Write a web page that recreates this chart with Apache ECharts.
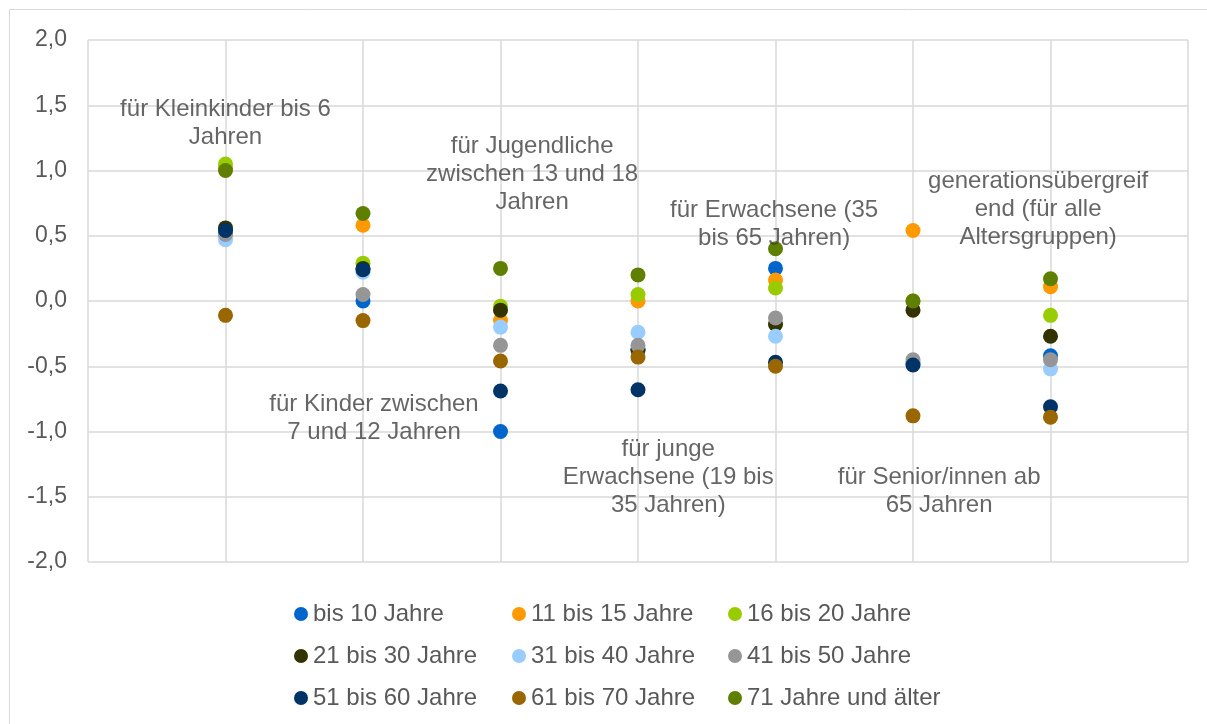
<!DOCTYPE html>
<html>
<head>
<meta charset="utf-8">
<script src="https://cdn.jsdelivr.net/npm/echarts@6/dist/echarts.min.js"></script>
<style>
  html, body { margin: 0; padding: 0; background: #fff; }
  #chart { width: 1207px; height: 724px; }
</style>
</head>
<body>
<div id="chart"></div>
<script>
// categories (x positions 1..7 on the value axis)
var categories = [
  'für Kleinkinder bis 6\nJahren',
  'für Kinder zwischen\n7 und 12 Jahren',
  'für Jugendliche\nzwischen 13 und 18\nJahren',
  'für junge\nErwachsene (19 bis\n35 Jahren)',
  'für Erwachsene (35\nbis 65 Jahren)',
  'für Senior/innen ab\n65 Jahren',
  'generationsübergreif\nend (für alle\nAltersgruppen)'
];

var seriesNames = [
  'bis 10 Jahre', '11 bis 15 Jahre', '16 bis 20 Jahre',
  '21 bis 30 Jahre', '31 bis 40 Jahre', '41 bis 50 Jahre',
  '51 bis 60 Jahre', '61 bis 70 Jahre', '71 Jahre und älter'
];

var bis10   = [0.52, 0.00, -1.00, -0.38, 0.25, -0.48, -0.42];
var b11_15  = [1.02, 0.58, -0.15, 0.00, 0.16, 0.54, 0.11];
var b16_20  = [1.05, 0.29, -0.04, 0.05, 0.10, 0.00, -0.11];
var b21_30  = [0.56, 0.25, -0.07, -0.37, -0.18, -0.07, -0.27];
var b31_40  = [0.47, 0.22, -0.20, -0.24, -0.27, -0.47, -0.52];
var b41_50  = [0.51, 0.05, -0.34, -0.34, -0.13, -0.45, -0.45];
var b51_60  = [0.54, 0.24, -0.69, -0.68, -0.47, -0.49, -0.81];
var b61_70  = [-0.11, -0.15, -0.46, -0.43, -0.50, -0.88, -0.89];
var b71plus = [1.00, 0.67, 0.25, 0.20, 0.40, 0.00, 0.17];

var seriesValues = [bis10, b11_15, b16_20, b21_30, b31_40, b41_50, b51_60, b61_70, b71plus];

var colors = ['#0066CC', '#FF9900', '#99CC00', '#333300', '#99CCFF',
              '#969696', '#003366', '#996600', '#5F7F00'];

var textColor = '#595959';
var captionColor = '#404040';
var gridColor = '#d9d9d9';
var font = "'Liberation Sans', Arial, sans-serif";

// where each category caption sits (x offset in category units, y in value units)
var captionPos = [
  [0.00, 1.36], [0.08, -0.90], [0.23, 0.97], [0.22, -1.35],
  [-0.01, 0.59], [0.19, -1.46], [-0.09, 0.70]
];

var chart = echarts.init(document.getElementById('chart'));

var series = seriesNames.map(function (name, s) {
  return {
    name: name,
    type: 'scatter',
    symbol: 'circle',
    symbolSize: 15,
    itemStyle: { color: colors[s], opacity: 1 },
    data: seriesValues[s].map(function (v, i) { return [i + 1, v]; })
  };
});

series.push({
  name: 'captions',
  type: 'scatter',
  silent: true,
  symbolSize: 0,
  z: 5,
  data: categories.map(function (c, i) {
    return { value: [i + 1 + captionPos[i][0], captionPos[i][1]], name: c };
  }),
  label: {
    show: true,
    position: 'inside',
    formatter: function (p) { return p.name; },
    color: captionColor,
    fontFamily: font,
    fontSize: 24,
    lineHeight: 28,
    align: 'center',
    verticalAlign: 'middle'
  }
});

function legendCol(idx, left) {
  return {
    left: left,
    top: 602,
    padding: 0,
    orient: 'vertical',
    icon: 'circle',
    itemWidth: 14,
    itemHeight: 14,
    itemGap: 18,
    itemTextGap: 5,
    selectedMode: false,
    data: idx.map(function (k) { return seriesNames[k]; }),
    textStyle: { color: textColor, fontFamily: font, fontSize: 24, lineHeight: 24 }
  };
}

var option = {
  animation: false,
  backgroundColor: '#fff',
  color: colors,
  grid: { left: 88, right: 19, top: 40, bottom: 162 },
  graphic: [{
    type: 'rect',
    shape: { x: 9.5, y: 9.5, width: 1220, height: 740 },
    style: { fill: 'none', stroke: gridColor, lineWidth: 1 },
    silent: true
  }],
  legend: [
    legendCol([0, 3, 6], 294),
    legendCol([1, 4, 7], 512),
    legendCol([2, 5, 8], 728)
  ],
  xAxis: {
    type: 'value',
    min: 0,
    max: 8,
    interval: 1,
    axisLine: { show: false },
    axisTick: { show: false },
    axisLabel: { show: false },
    splitLine: { show: true, lineStyle: { color: gridColor, width: 1.5 } }
  },
  yAxis: {
    type: 'value',
    min: -2,
    max: 2,
    interval: 0.5,
    axisLine: { show: false },
    axisTick: { show: false },
    axisLabel: {
      color: textColor,
      fontFamily: font,
      fontSize: 23,
      margin: 21,
      formatter: function (v) { return v.toFixed(1).replace('.', ','); }
    },
    splitLine: { show: true, lineStyle: { color: gridColor, width: 1.5 } }
  },
  series: series
};

chart.setOption(option);
</script>
</body>
</html>
